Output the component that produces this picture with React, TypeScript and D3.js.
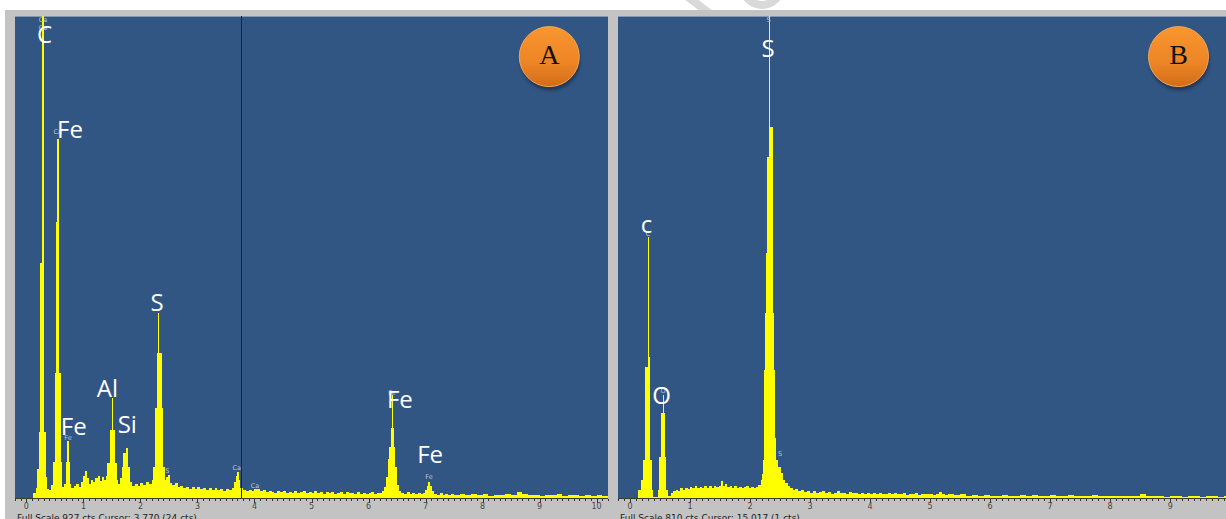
import React from 'react';
import * as d3 from 'd3';

// EDS spectra, [keV, counts] (step histogram outline)
const spectrumA: [number, number][] = [
  [-0.2, 0], [0.12, 10], [0.16, 20], [0.19, 55], [0.215, 127], [0.245, 452], [0.28, 927], [0.302, 486],
  [0.315, 127], [0.34, 40], [0.36, 17], [0.4, 15], [0.44, 25], [0.47, 70], [0.5, 240], [0.515, 530],
  [0.545, 690], [0.563, 530], [0.575, 240], [0.6, 70], [0.625, 22], [0.66, 27], [0.69, 70], [0.72, 110],
  [0.739, 70], [0.76, 27], [0.79, 19], [0.83, 23], [0.87, 27], [0.92, 21], [0.96, 31], [1.0, 42],
  [1.03, 52], [1.06, 38], [1.09, 27], [1.13, 35], [1.17, 31], [1.21, 38], [1.25, 42], [1.29, 33],
  [1.33, 40], [1.36, 35], [1.39, 42], [1.415, 67], [1.46, 130], [1.5, 192], [1.515, 130], [1.555, 67],
  [1.585, 35], [1.615, 27], [1.64, 38], [1.67, 60], [1.7, 87], [1.74, 125], [1.755, 96], [1.79, 60],
  [1.82, 31], [1.86, 23], [1.9, 27], [1.95, 23], [2.0, 29], [2.05, 25], [2.1, 31], [2.15, 27],
  [2.2, 35], [2.225, 60], [2.255, 173], [2.285, 279], [2.31, 356], [2.325, 279], [2.37, 173], [2.4, 60],
  [2.43, 35], [2.45, 40], [2.48, 44], [2.51, 29], [2.55, 25], [2.6, 28], [2.65, 21], [2.7, 24],
  [2.75, 19], [2.8, 22], [2.85, 17], [2.9, 21], [2.95, 18], [3.0, 22], [3.05, 17], [3.1, 19],
  [3.15, 15], [3.2, 20], [3.25, 16], [3.3, 19], [3.35, 15], [3.4, 17], [3.45, 14], [3.5, 17],
  [3.55, 15], [3.6, 19], [3.64, 31], [3.67, 42], [3.7, 50], [3.72, 35], [3.75, 19], [3.8, 15],
  [3.85, 13], [3.9, 16], [3.95, 13], [4.0, 18], [4.05, 17], [4.1, 13], [4.15, 15], [4.2, 11],
  [4.25, 14], [4.3, 12], [4.35, 10], [4.4, 14], [4.45, 11], [4.5, 13], [4.55, 10], [4.6, 12],
  [4.65, 10], [4.7, 13], [4.75, 9], [4.8, 11], [4.85, 14], [4.9, 10], [4.95, 12], [5.0, 9],
  [5.05, 13], [5.1, 10], [5.15, 11], [5.2, 8], [5.25, 12], [5.3, 9], [5.35, 11], [5.4, 8],
  [5.45, 10], [5.5, 12], [5.55, 8], [5.6, 11], [5.65, 9], [5.7, 10], [5.75, 7], [5.8, 11],
  [5.85, 8], [5.9, 10], [5.95, 7], [6.0, 9], [6.05, 11], [6.1, 8], [6.15, 10], [6.2, 9],
  [6.24, 13], [6.28, 21], [6.31, 40], [6.34, 75], [6.365, 98], [6.39, 135], [6.405, 198], [6.425, 135],
  [6.45, 98], [6.47, 60], [6.5, 25], [6.53, 13], [6.57, 10], [6.62, 8], [6.67, 11], [6.72, 8],
  [6.77, 10], [6.82, 7], [6.87, 9], [6.92, 7], [6.96, 10], [6.99, 15], [7.02, 23], [7.05, 31],
  [7.08, 23], [7.11, 13], [7.15, 8], [7.2, 6], [7.25, 9], [7.3, 6], [7.35, 8], [7.4, 5],
  [7.45, 8], [7.5, 6], [7.6, 8], [7.7, 5], [7.8, 7], [7.9, 5], [8.0, 7], [8.1, 4],
  [8.2, 6], [8.3, 5], [8.4, 7], [8.5, 6], [8.6, 11], [8.7, 7], [8.8, 5], [8.9, 6],
  [9.0, 4], [9.1, 6], [9.2, 5], [9.3, 7], [9.4, 4], [9.5, 6], [9.6, 5], [9.7, 4],
  [9.8, 6], [9.9, 4], [10.0, 5], [10.1, 4], [10.2, 4],
];

const spectrumB: [number, number][] = [
  [-0.2, 0], [0.14, 13], [0.19, 30], [0.22, 64], [0.25, 220], [0.295, 438], [0.315, 237], [0.335, 64],
  [0.36, 13], [0.38, 2], [0.47, 13], [0.49, 69], [0.515, 143], [0.545, 173], [0.564, 143], [0.575, 69],
  [0.6, 13], [0.63, 4], [0.68, 8], [0.72, 11], [0.76, 14], [0.8, 12], [0.84, 16], [0.88, 13],
  [0.92, 17], [0.96, 15], [1.0, 18], [1.04, 16], [1.08, 20], [1.12, 17], [1.16, 19], [1.2, 16],
  [1.24, 21], [1.28, 17], [1.32, 20], [1.36, 17], [1.4, 21], [1.44, 18], [1.48, 20], [1.52, 28],
  [1.55, 20], [1.58, 24], [1.62, 18], [1.66, 21], [1.7, 17], [1.74, 20], [1.78, 16], [1.82, 19],
  [1.86, 16], [1.9, 18], [1.94, 21], [1.98, 17], [2.02, 19], [2.06, 16], [2.1, 18], [2.14, 22],
  [2.18, 30], [2.2, 40], [2.215, 64], [2.235, 215], [2.255, 311], [2.267, 412], [2.278, 573], [2.31, 810],
  [2.333, 623], [2.378, 412], [2.388, 311], [2.405, 215], [2.415, 101], [2.44, 64], [2.47, 52], [2.51, 42],
  [2.55, 30], [2.59, 25], [2.63, 20], [2.67, 17], [2.71, 13], [2.75, 15], [2.8, 11], [2.85, 13],
  [2.9, 10], [2.95, 12], [3.0, 9], [3.05, 11], [3.1, 8], [3.15, 10], [3.2, 12], [3.25, 8],
  [3.3, 10], [3.35, 7], [3.4, 9], [3.45, 11], [3.5, 8], [3.55, 9], [3.6, 7], [3.65, 10],
  [3.7, 8], [3.75, 9], [3.8, 6], [3.85, 8], [3.9, 7], [3.95, 9], [4.0, 6], [4.05, 8],
  [4.1, 7], [4.15, 9], [4.2, 6], [4.25, 7], [4.3, 9], [4.35, 6], [4.4, 8], [4.45, 7],
  [4.5, 6], [4.55, 8], [4.6, 5], [4.65, 7], [4.7, 6], [4.75, 8], [4.8, 5], [4.85, 7],
  [4.9, 6], [4.95, 7], [5.0, 6], [5.05, 5], [5.1, 7], [5.15, 10], [5.2, 7], [5.25, 5],
  [5.3, 6], [5.4, 5], [5.5, 6], [5.6, 4], [5.7, 5], [5.8, 4], [5.9, 5], [6.0, 4],
  [6.1, 3], [6.2, 5], [6.3, 3], [6.4, 4], [6.5, 5], [6.6, 3], [6.7, 5], [6.8, 4],
  [6.9, 3], [7.0, 5], [7.1, 3], [7.2, 4], [7.3, 5], [7.4, 3], [7.5, 4], [7.6, 3],
  [7.7, 5], [7.8, 3], [7.9, 4], [8.0, 3], [8.1, 4], [8.2, 3], [8.3, 4], [8.4, 3],
  [8.5, 6], [8.6, 4], [8.7, 3], [8.8, 4], [8.9, 2], [9.0, 3], [9.1, 4], [9.2, 2],
  [9.3, 3], [9.4, 4], [9.5, 2], [9.6, 3], [9.7, 4], [9.8, 2], [9.9, 3], [10.0, 3],
];

// big element labels: [text, keV, counts at baseline]
const labelsA: [string, number, number][] = [
  ['C', 0.32, 875], ['Fe', 0.765, 692], ['Fe', 0.83, 121], ['Al', 1.42, 194],
  ['Si', 1.77, 125], ['S', 2.29, 360], ['Fe', 6.55, 173], ['Fe', 7.08, 67],
];
const labelsB: [string, number, number][] = [
  ['c', 0.275, 445], ['O', 0.525, 158], ['S', 2.3, 741],
];

// small peak tags from the instrument software
const tagsA: [string, number, number][] = [
  ['Ca', 0.29, 915], ['Ca', 0.29, 900], ['Ca', 0.55, 700], ['Fe', 0.73, 112], ['S', 2.47, 48],
  ['Ca', 3.69, 54], ['Ca', 4.01, 20], ['Fe', 6.41, 198], ['Fe', 7.06, 36],
];
const tagsB: [string, number, number][] = [
  ['S', 2.31, 800], ['S', 2.5, 70], ['C', 0.3, 440], ['O', 0.55, 176],
];

const ticksA = [0, 1, 2, 3, 4, 5, 6, 7, 8, 9, 10];
const ticksB = [0, 1, 2, 3, 4, 5, 6, 7, 8, 9];

const W = 1226;
const H = 519;
const PT = 16;
const PB = 498;
const BLUE = '#315683';

type PanelProps = {
  id: string;
  x0: number;
  x1: number;
  domain: [number, number];
  full: number;
  data: [number, number][];
  labels: [string, number, number][];
  tags: [string, number, number][];
  ticks: number[];
  cursor?: number;
  badge: string;
  badgeX: number;
  footer: string;
};

function Panel(p: PanelProps) {
  const xs = d3.scaleLinear().domain(p.domain).range([p.x0, p.x1]);
  const ys = d3.scaleLinear().domain([0, p.full]).range([PB, PT]).clamp(true);
  const area = d3.area<[number, number]>()
    .x(d => xs(d[0]))
    .y0(PB)
    .y1(d => ys(d[1]))
    .curve(d3.curveStepAfter);
  const minor = d3.range(Math.ceil(p.domain[0] * 10), Math.floor(p.domain[1] * 10) + 1).map(v => v / 10);
  const by = 56.6;

  return (
    <g>
      <defs>
        <clipPath id={'clip' + p.id}>
          <rect x={p.x0} y={PT} width={p.x1 - p.x0} height={PB - PT} />
        </clipPath>
      </defs>
      <rect x={p.x0} y={PT} width={p.x1 - p.x0} height={PB - PT} fill={BLUE} />
      <line x1={p.x0} x2={p.x1} y1={PT + 0.5} y2={PT + 0.5} stroke="#8797b3" />
      <g clipPath={`url(#clip${p.id})`}>
        <path d={area(p.data) || ''} fill="#ffff00" shapeRendering="crispEdges" />
        {p.cursor !== undefined && (
          <line x1={Math.round(xs(p.cursor)) + 0.5} x2={Math.round(xs(p.cursor)) + 0.5}
            y1={PT} y2={PB} stroke="#172640" strokeWidth={1} />
        )}
      </g>
      <line x1={p.x0} x2={p.x1} y1={PB + 0.5} y2={PB + 0.5} stroke="#3b3f2a" />

      {minor.map(v => {
        const major = Math.abs(v - Math.round(v)) < 1e-6;
        return (
          <line key={v} x1={Math.round(xs(v)) + 0.5} x2={Math.round(xs(v)) + 0.5}
            y1={PB + 1} y2={PB + (major ? 5 : 3)} stroke="#333" strokeWidth={1} />
        );
      })}
      {p.ticks.map(t => (
        <text key={t} x={xs(t)} y={508.5} textAnchor="middle" fontSize={8}
          fontFamily="DejaVu Sans" fill="#484848">{t}</text>
      ))}
      <text x={p.x0 + 2} y={520.5} fontSize={9} fontFamily="DejaVu Sans" fill="#222">{p.footer}</text>

      {p.tags.map(([t, e, c], i) => (
        <text key={i} x={xs(e)} y={ys(c)} textAnchor="middle" fontSize={6.5}
          fontFamily="DejaVu Sans" fill="#b9c4d8">{t}</text>
      ))}
      {p.labels.map(([t, e, c], i) => (
        <text key={i} x={xs(e)} y={ys(c)} textAnchor="middle" fontSize={24}
          fontFamily="Open Sans" fill="#ffffff">{t}</text>
      ))}

      <circle cx={p.badgeX + 1} cy={by + 4} r={30} fill="#1c2d4a" opacity={0.75} filter="url(#blur)" />
      <circle cx={p.badgeX} cy={by} r={30} fill="url(#orange)" stroke="#f7a552" strokeWidth={1} />
      <text x={p.badgeX} y={by + 7} textAnchor="middle" fontSize={28}
        fontFamily="Liberation Serif" fill="#111">{p.badge}</text>
    </g>
  );
}

export default function App() {
  return (
    <svg width={W} height={H} style={{ position: 'absolute', left: 0, top: 0, background: '#fff' }}>
      <defs>
        <linearGradient id="orange" x1="0" y1="0" x2="0" y2="1">
          <stop offset="0" stopColor="#f9962f" />
          <stop offset="0.6" stopColor="#ed8526" />
          <stop offset="1" stopColor="#d26c18" />
        </linearGradient>
        <filter id="blur" x="-20%" y="-20%" width="140%" height="140%">
          <feGaussianBlur stdDeviation={1.5} />
        </filter>
      </defs>
      {/* faint watermark strokes above the frame */}
      <path d="M688 -3 L709 13" stroke="#d9d9d9" strokeWidth={8} fill="none" />
      <circle cx={762} cy={-14} r={19} stroke="#d9d9d9" strokeWidth={8} fill="none" />
      <rect x={5} y={10} width={W - 5} height={H - 10} fill="#c3c3c3" />
      <Panel id="A" x0={15} x1={608} domain={[-0.2, 10.2]} full={927} data={spectrumA}
        labels={labelsA} tags={tagsA} ticks={ticksA} cursor={3.77} badge="A" badgeX={549.3}
        footer="Full Scale 927 cts Cursor: 3.770  (24 cts)" />
      <Panel id="B" x0={618} x1={1226} domain={[-0.2, 9.93]} full={810} data={spectrumB}
        labels={labelsB} tags={tagsB} ticks={ticksB} badge="B" badgeX={1178.5}
        footer="Full Scale 810 cts Cursor: 15.017  (1 cts)" />
    </svg>
  );
}
